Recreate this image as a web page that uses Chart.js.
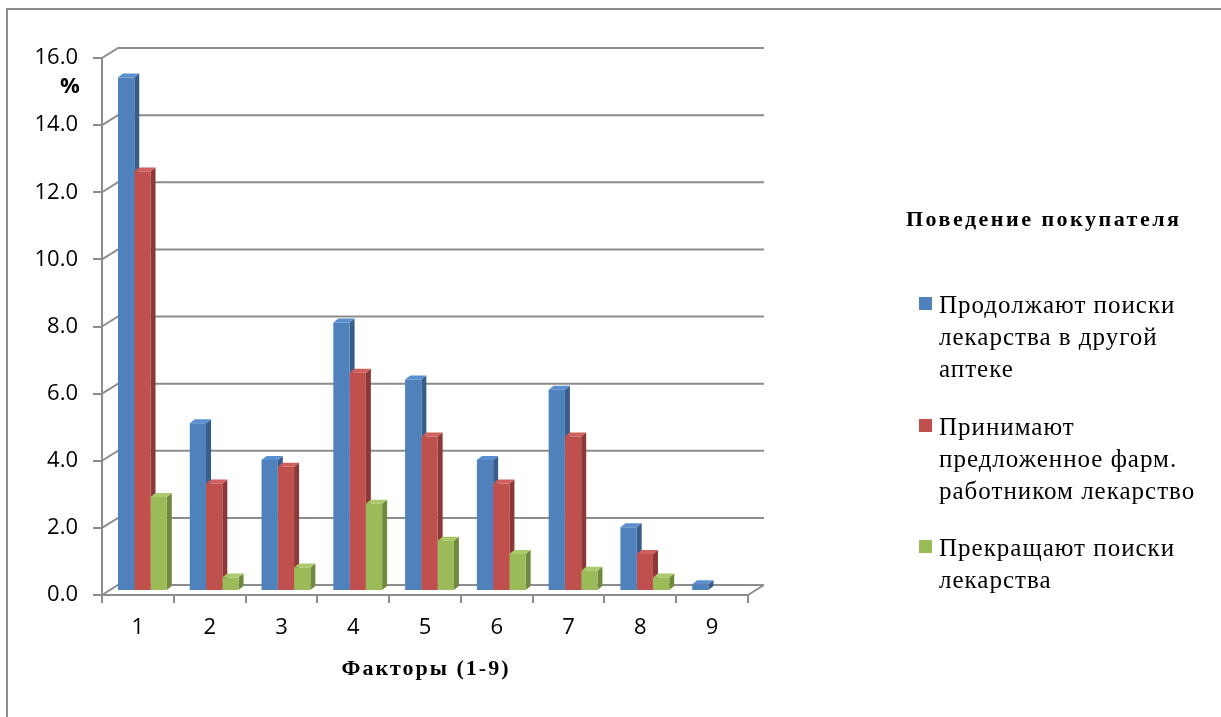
<!DOCTYPE html>
<html lang="ru">
<head>
<meta charset="utf-8">
<title>Поведение покупателя</title>
<script src="https://cdn.jsdelivr.net/npm/chart.js@4.4.1/dist/chart.umd.min.js"></script>
<style>
  html, body { margin: 0; padding: 0; background: #ffffff; }
  #wrap { position: relative; width: 1221px; height: 717px; }
</style>
</head>
<body>
<div id="wrap"><canvas id="chart" width="1221" height="717"></canvas></div>
<script>
// Factors 1-9 on the horizontal axis
const categories = ['1', '2', '3', '4', '5', '6', '7', '8', '9'];

// Share of buyers (%) by behaviour
const continueSearch = [15.3, 5.0, 3.9, 8.0, 6.3, 3.9, 6.0, 1.9, 0.2];
const acceptOffered  = [12.5, 3.2, 3.7, 6.5, 4.6, 3.2, 4.6, 1.1, 0];
const stopSearch     = [2.8, 0.4, 0.7, 2.6, 1.5, 1.1, 0.6, 0.4, 0];

// Legend text, one array of lines per series
const seriesNames = [
  ['Продолжают поиски', 'лекарства в другой', 'аптеке'],
  ['Принимают', 'предложенное фарм.', 'работником лекарство'],
  ['Прекращают поиски', 'лекарства']
];
const legendTitle = 'Поведение покупателя';
const xTitle = 'Факторы (1-9)';
const yUnit = '%';
const yTicks = { min: 0, max: 16, step: 2 };

// Palette: front, side and top faces
const fronts = ['#4f81bd', '#c0504d', '#9bbb59'];
const sides  = ['#385d8a', '#8c3836', '#71893f'];
const tops   = ['#5b8fcf', '#d0605c', '#a9c96a'];

const GRID = '#8c8c8c';
const SERIF = '"Liberation Serif", "Times New Roman", "DejaVu Serif", serif';
const WALL = { dx: 16, dy: -10 };     // depth of the back wall
const BAR_SHIFT = { dx: 4.5, dy: -4 }; // bars sit half-way into the floor
const CAP = { dx: 5, dy: -4 };         // bar depth

// Frame, back wall grid, floor and the axis titles
const wallPlugin = {
  id: 'wall',
  beforeDraw(chart) {
    const ctx = chart.ctx;
    const { left, right, bottom } = chart.chartArea;
    const y = chart.scales.y;
    ctx.save();
    ctx.fillStyle = '#ffffff';
    ctx.fillRect(0, 0, chart.width, chart.height);
    // outer frame
    ctx.strokeStyle = GRID;
    ctx.lineWidth = 2;
    ctx.beginPath();
    ctx.moveTo(7, chart.height + 5);
    ctx.lineTo(7, 9);
    ctx.lineTo(chart.width + 5, 9);
    ctx.stroke();
    // back wall gridlines with their diagonal returns to the axis
    for (let v = yTicks.min; v <= yTicks.max; v += yTicks.step) {
      const py = y.getPixelForValue(v);
      ctx.beginPath();
      ctx.moveTo(left, py);
      ctx.lineTo(left + WALL.dx, py + WALL.dy);
      ctx.lineTo(right + WALL.dx, py + WALL.dy);
      ctx.stroke();
    }
    // floor right edge
    ctx.beginPath();
    ctx.moveTo(right, bottom);
    ctx.lineTo(right + WALL.dx, bottom + WALL.dy);
    ctx.stroke();
    // unit label
    ctx.fillStyle = '#000000';
    ctx.font = 'bold 22px "Open Sans", sans-serif';
    ctx.textAlign = 'center';
    ctx.textBaseline = 'middle';
    ctx.fillText(yUnit, 70, 87);
    // horizontal axis title
    ctx.font = 'bold 22px ' + SERIF;
    ctx.letterSpacing = '2px';
    ctx.textBaseline = 'alphabetic';
    ctx.fillText(xTitle, (left + right) / 2 + 1, 675);
    ctx.letterSpacing = '0px';
    ctx.restore();
  }
};

// Side and top faces of each bar, drawn before the front faces
const depthPlugin = {
  id: 'depth',
  beforeDatasetsDraw(chart) {
    const ctx = chart.ctx;
    ctx.save();
    ctx.translate(BAR_SHIFT.dx, BAR_SHIFT.dy);
    const n = chart.data.labels.length;
    for (let i = 0; i < n; i++) {
      chart.data.datasets.forEach((ds, d) => {
        const bar = chart.getDatasetMeta(d).data[i];
        if (!bar || !ds.data[i]) return;
        const p = bar.getProps(['x', 'y', 'base', 'width'], true);
        const l = p.x - p.width / 2, r = p.x + p.width / 2;
        const t = p.y, b = p.base;
        // side face
        ctx.fillStyle = sides[d];
        ctx.beginPath();
        ctx.moveTo(r, b);
        ctx.lineTo(r + CAP.dx, b + CAP.dy);
        ctx.lineTo(r + CAP.dx, t + CAP.dy);
        ctx.lineTo(r, t);
        ctx.closePath();
        ctx.fill();
        // top face
        ctx.fillStyle = tops[d];
        ctx.beginPath();
        ctx.moveTo(l, t);
        ctx.lineTo(l + CAP.dx, t + CAP.dy);
        ctx.lineTo(r + CAP.dx, t + CAP.dy);
        ctx.lineTo(r, t);
        ctx.closePath();
        ctx.fill();
      });
    }
  },
  afterDatasetsDraw(chart) {
    chart.ctx.restore();
  }
};

// Legend block on the right
const legendPlugin = {
  id: 'sideLegend',
  afterDraw(chart) {
    const ctx = chart.ctx;
    ctx.save();
    ctx.fillStyle = '#000000';
    ctx.textBaseline = 'alphabetic';
    ctx.textAlign = 'left';
    ctx.font = 'bold 22px ' + SERIF;
    ctx.letterSpacing = '2.5px';
    ctx.fillText(legendTitle, 906, 226);
    ctx.font = '25px ' + SERIF;
    ctx.letterSpacing = '1px';
    const starts = [296, 418, 539];
    chart.data.datasets.forEach((ds, d) => {
      const y0 = starts[d];
      ctx.fillStyle = ds.backgroundColor;
      ctx.fillRect(919, y0 + 1, 13, 13);
      ctx.fillStyle = '#000000';
      seriesNames[d].forEach((line, k) => {
        ctx.fillText(line, 939, y0 + 17 + k * 32);
      });
    });
    ctx.letterSpacing = '0px';
    ctx.restore();
  }
};

const tickFont = { family: '"Open Sans", sans-serif', size: 22 };

new Chart(document.getElementById('chart'), {
  type: 'bar',
  data: {
    labels: categories,
    datasets: [
      { label: seriesNames[0].join(' '), data: continueSearch, backgroundColor: fronts[0] },
      { label: seriesNames[1].join(' '), data: acceptOffered,  backgroundColor: fronts[1] },
      { label: seriesNames[2].join(' '), data: stopSearch,     backgroundColor: fronts[2] }
    ]
  },
  options: {
    responsive: false,
    animation: false,
    events: [],
    layout: { padding: { left: 0, right: 473, top: 58, bottom: 0 } },
    datasets: { bar: { barPercentage: 1, categoryPercentage: 0.68, borderWidth: 0 } },
    plugins: { legend: { display: false }, tooltip: { enabled: false } },
    scales: {
      x: {
        grid: { drawOnChartArea: false, drawTicks: true, tickLength: 8, color: GRID, lineWidth: 2 },
        border: { color: GRID, width: 2 },
        ticks: { font: tickFont, color: '#000000', padding: 12, maxRotation: 0 },
        afterFit(scale) { scale.height = 122; }
      },
      y: {
        min: yTicks.min, max: yTicks.max,
        grid: { drawOnChartArea: false, drawTicks: true, tickLength: 9, color: GRID, lineWidth: 2 },
        border: { color: GRID, width: 2 },
        ticks: {
          stepSize: yTicks.step, font: tickFont, color: '#000000', padding: 15,
          callback: v => Number(v).toFixed(1)
        },
        afterFit(scale) { scale.width = 102; }
      }
    }
  },
  plugins: [wallPlugin, depthPlugin, legendPlugin]
});
</script>
</body>
</html>
